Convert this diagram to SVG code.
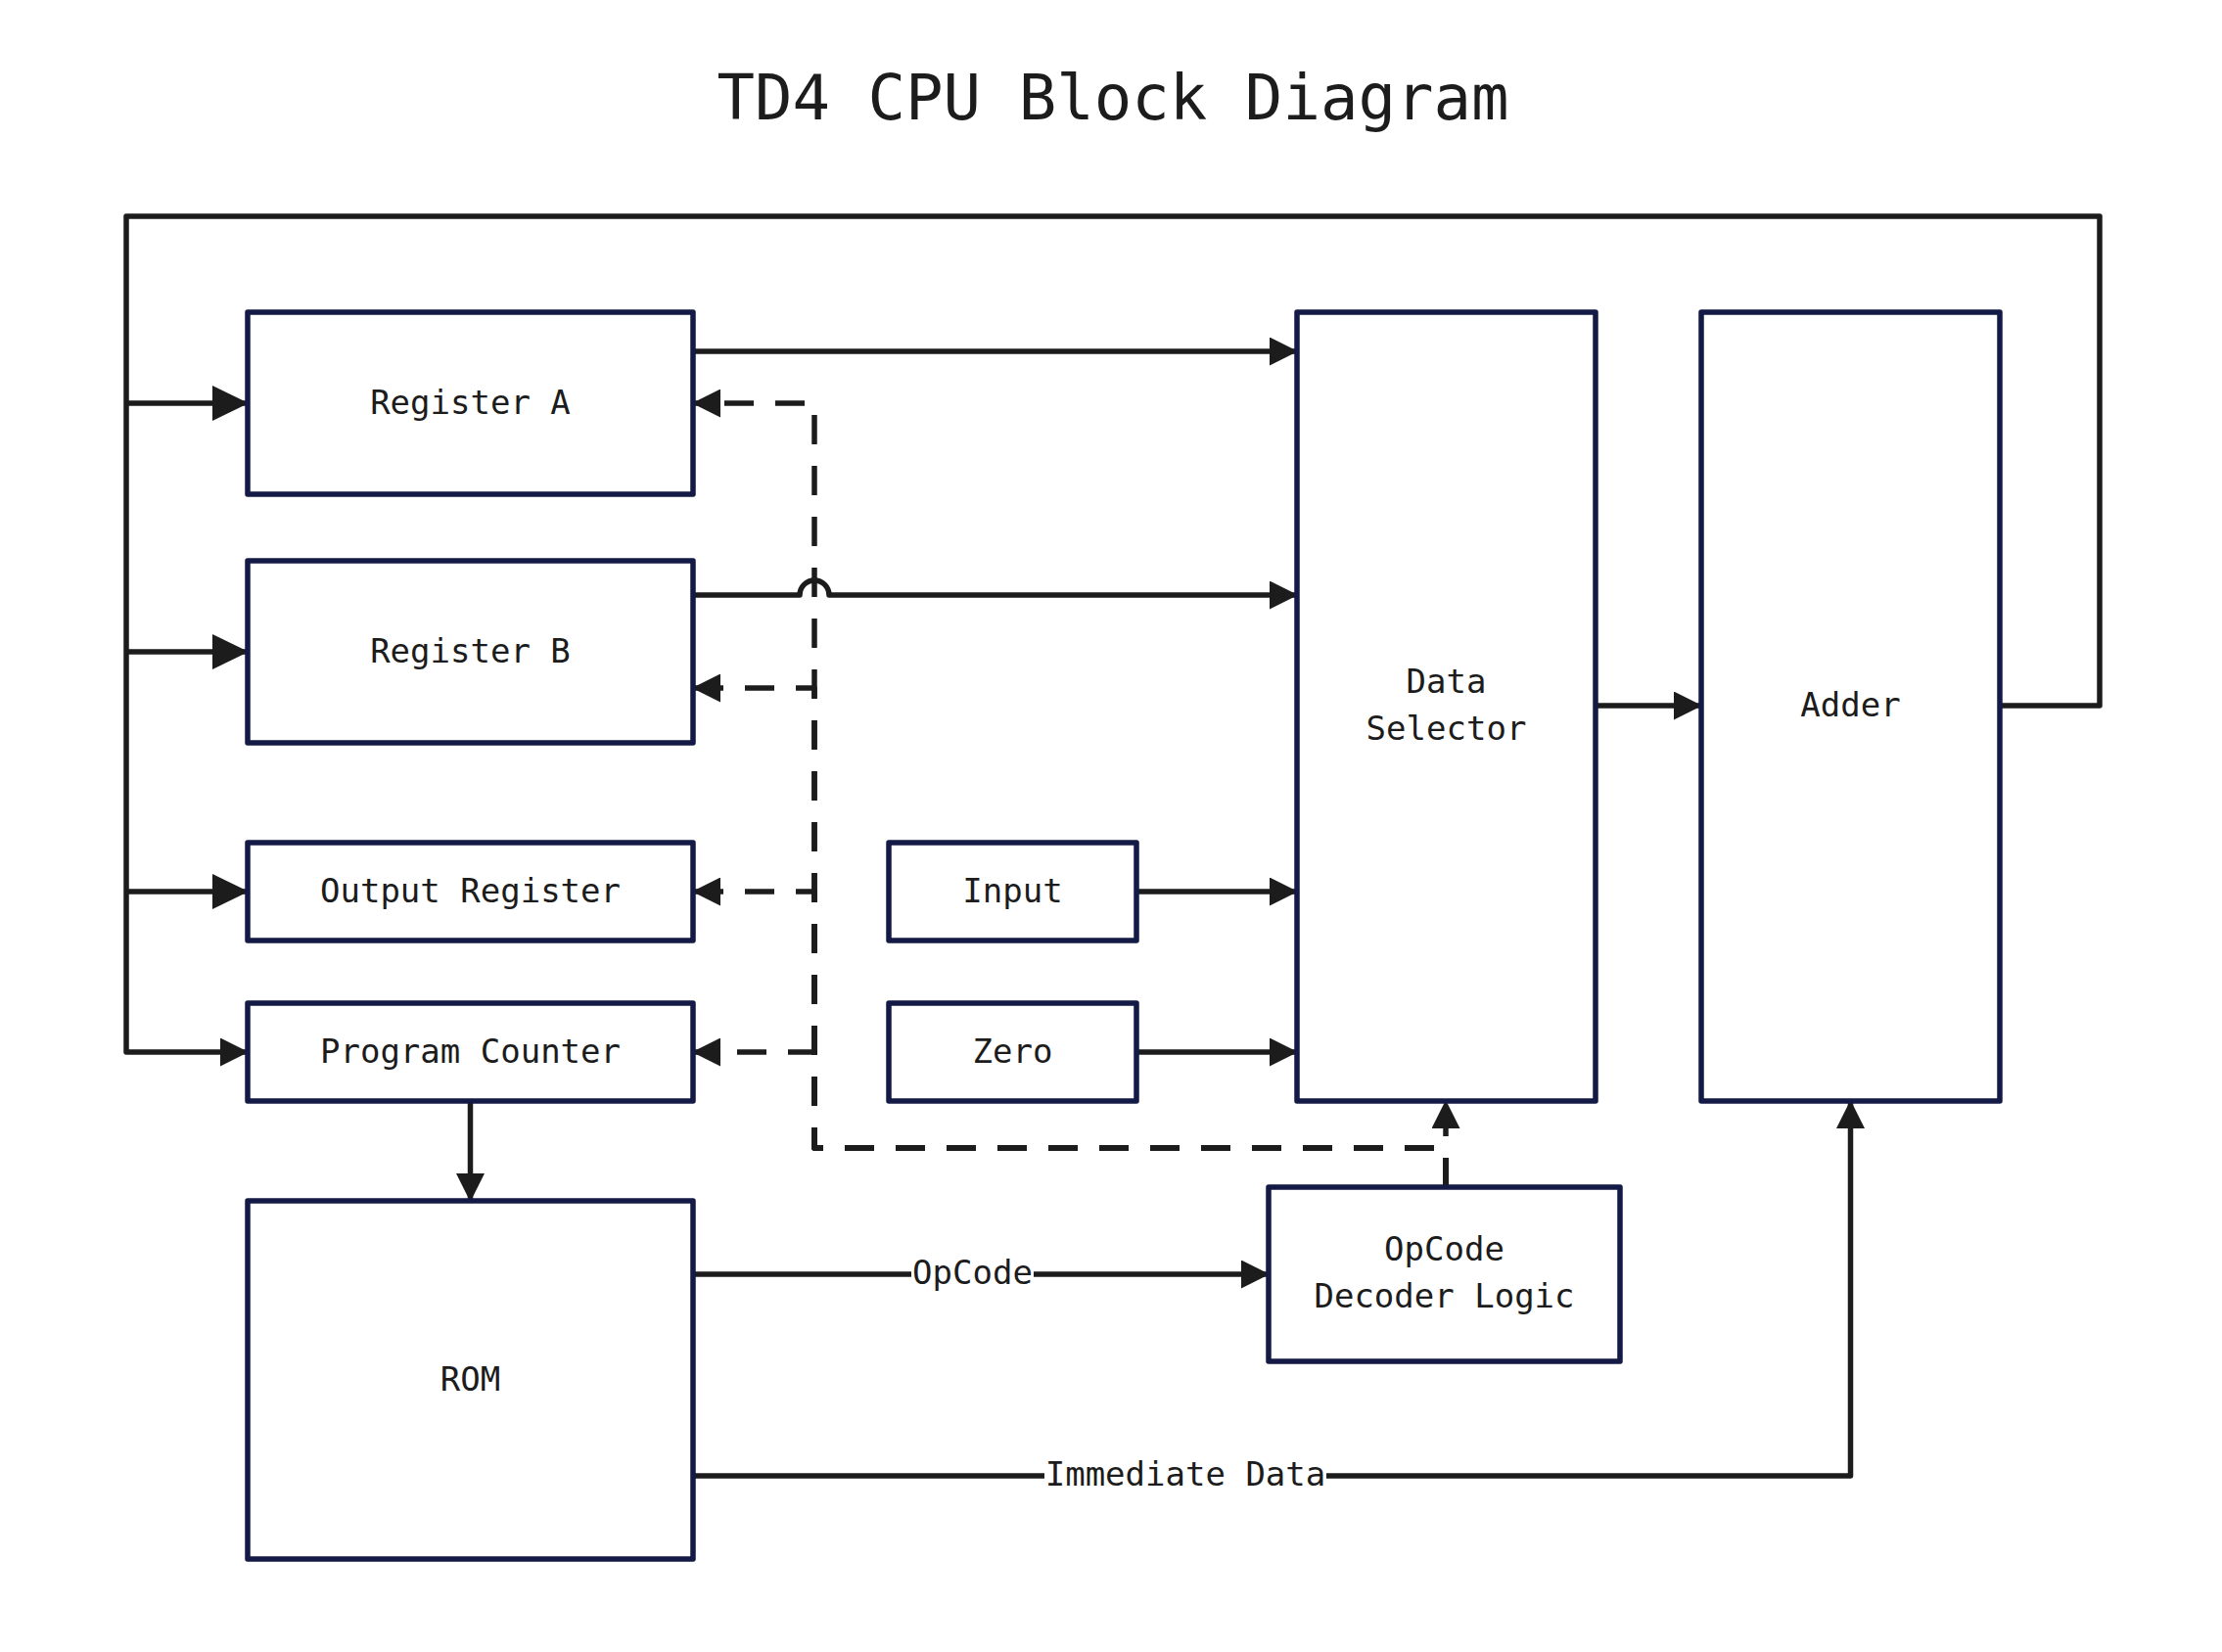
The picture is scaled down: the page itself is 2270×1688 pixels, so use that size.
<svg xmlns="http://www.w3.org/2000/svg" width="2270" height="1688" viewBox="0 0 2270 1688">
  <style>
    .node rect { fill: #ffffff; stroke: #131a45; stroke-width: 5.5; stroke-linejoin: round; }
    .node text, .lbl { font-family: "DejaVu Sans Mono", "Liberation Mono", monospace; font-size: 34px; fill: #1c1c1c; text-anchor: middle; dominant-baseline: central; }
    .title { font-family: "DejaVu Sans Mono", "Liberation Mono", monospace; font-size: 64px; fill: #1c1c1c; text-anchor: middle; }
    .ln { fill: none; stroke: #1c1c1c; stroke-width: 5.5; stroke-linejoin: round; }
    .dash { stroke-dasharray: 30 22; }
  </style>
  <defs>
    <marker id="arr" markerUnits="userSpaceOnUse" markerWidth="29" markerHeight="29" refX="28" refY="14.5" orient="auto">
      <path d="M0,0 L29,14.5 L0,29 Z" fill="#1c1c1c"/>
    </marker>
    <marker id="arrBig" markerUnits="userSpaceOnUse" markerWidth="37" markerHeight="36" refX="36" refY="18" orient="auto">
      <path d="M0,0 L37,18 L0,36 Z" fill="#1c1c1c"/>
    </marker>
  </defs>
  <rect x="0" y="0" width="2270" height="1688" fill="#ffffff"/>
  <text class="title" x="1137" y="122">TD4 CPU Block Diagram</text>

  <g id="connectors">
    <!-- feedback bus from Adder -->
    <path class="ln" d="M2043,721 H2145 V221 H129 V1075 H253" marker-end="url(#arr)"/>
    <path class="ln" d="M129,412 H253" marker-end="url(#arrBig)"/>
    <path class="ln" d="M129,666 H253" marker-end="url(#arrBig)"/>
    <path class="ln" d="M129,911 H253" marker-end="url(#arrBig)"/>
    <!-- into data selector -->
    <path class="ln" d="M708,359 H1325" marker-end="url(#arr)"/>
    <path class="ln" d="M708,608 H817 a15,15 0 0 1 30,0 H1325" marker-end="url(#arr)"/>
    <path class="ln" d="M1161,911 H1325" marker-end="url(#arr)"/>
    <path class="ln" d="M1161,1075 H1325" marker-end="url(#arr)"/>
    <path class="ln" d="M1630,721 H1738" marker-end="url(#arr)"/>
    <!-- PC to ROM -->
    <path class="ln" d="M480.5,1125 V1227" marker-end="url(#arr)"/>
    <!-- ROM to decoder -->
    <path class="ln" d="M708,1302 H1296" marker-end="url(#arr)"/>
    <!-- ROM immediate data to adder -->
    <path class="ln" d="M708,1508 H1890.5 V1125" marker-end="url(#arr)"/>
    <!-- control lines from decoder -->
    <path class="ln dash" d="M1477,1213 V1125" marker-end="url(#arr)"/>
    <path class="ln dash" d="M1477,1213 V1173 H832 V412 H708" marker-end="url(#arr)"/>
    <path class="ln dash" d="M1477,1213 V1173 H832 V703 H708" marker-end="url(#arr)"/>
    <path class="ln dash" d="M1477,1213 V1173 H832 V911 H708" marker-end="url(#arr)"/>
    <path class="ln dash" d="M1477,1213 V1173 H832 V1075 H708" marker-end="url(#arr)"/>
    <!-- edge labels -->
    <rect x="931" y="1282" width="125" height="40" fill="#ffffff"/>
    <text class="lbl" x="993.5" y="1300">OpCode</text>
    <rect x="1067" y="1488" width="288" height="40" fill="#ffffff"/>
    <text class="lbl" x="1211" y="1506">Immediate Data</text>
  </g>

  <g id="register-a" class="node">
    <rect x="253" y="319" width="455" height="186"/>
    <text x="480.5" y="411">Register A</text>
  </g>
  <g id="register-b" class="node">
    <rect x="253" y="573" width="455" height="186"/>
    <text x="480.5" y="665">Register B</text>
  </g>
  <g id="output-register" class="node">
    <rect x="253" y="861" width="455" height="100"/>
    <text x="480.5" y="910">Output Register</text>
  </g>
  <g id="program-counter" class="node">
    <rect x="253" y="1025" width="455" height="100"/>
    <text x="480.5" y="1074">Program Counter</text>
  </g>
  <g id="rom" class="node">
    <rect x="253" y="1227" width="455" height="366"/>
    <text x="480.5" y="1409">ROM</text>
  </g>
  <g id="input" class="node">
    <rect x="908" y="861" width="253" height="100"/>
    <text x="1034.5" y="910">Input</text>
  </g>
  <g id="zero" class="node">
    <rect x="908" y="1025" width="253" height="100"/>
    <text x="1034.5" y="1074">Zero</text>
  </g>
  <g id="data-selector" class="node">
    <rect x="1325" y="319" width="305" height="806"/>
    <text x="1477.5" y="696">Data</text>
    <text x="1477.5" y="744">Selector</text>
  </g>
  <g id="adder" class="node">
    <rect x="1738" y="319" width="305" height="806"/>
    <text x="1890.5" y="720">Adder</text>
  </g>
  <g id="opcode-decoder" class="node">
    <rect x="1296" y="1213" width="359" height="178"/>
    <text x="1475.5" y="1276">OpCode</text>
    <text x="1475.5" y="1324">Decoder Logic</text>
  </g>
</svg>
